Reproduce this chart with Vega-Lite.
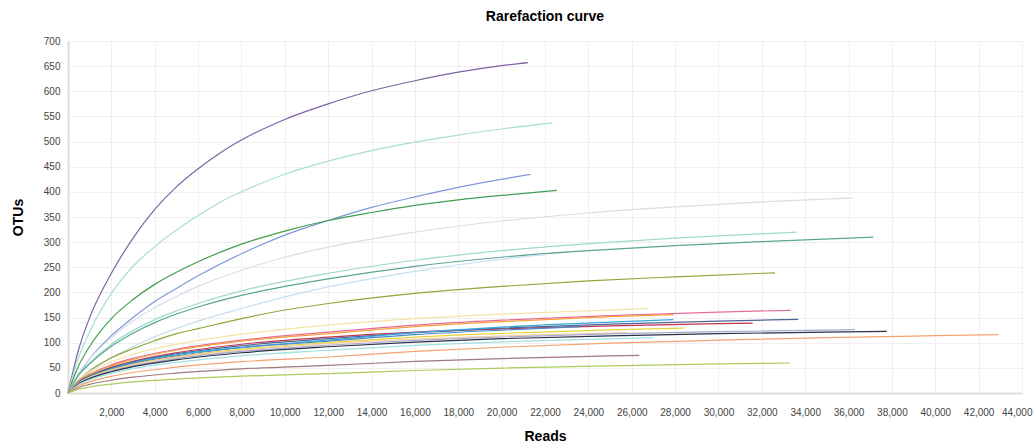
{
"$schema": "https://vega.github.io/schema/vega-lite/v6.json",
"width": 954, "height": 352,
"autosize": {"type": "none"},
"padding": {"left": 68, "top": 41, "right": 11, "bottom": 55},
"background": "white",
"title": {"text": "Rarefaction curve", "font": "Liberation Sans", "fontSize": 14, "fontWeight": "bold", "color": "#000000", "anchor": "middle", "offset": 12},
"config": {
  "view": {"stroke": null},
  "axis": {"labelFont": "Liberation Sans", "labelFontSize": 10, "labelColor": "#444444", "titleFont": "Liberation Sans", "titleFontSize": 14, "titleFontWeight": "bold", "titleColor": "#000000", "gridColor": "#efefef", "gridWidth": 1, "ticks": false, "domainColor": "#dddddd", "domainWidth": 2}
},
"data": {"values": [
{"s":"S01","x":0,"y":0},{"s":"S01","x":500,"y":88},{"s":"S01","x":1000,"y":150},{"s":"S01","x":2000,"y":238},{"s":"S01","x":3000,"y":308},{"s":"S01","x":4000,"y":365},{"s":"S01","x":5000,"y":410},{"s":"S01","x":6000,"y":446},{"s":"S01","x":7000,"y":477},{"s":"S01","x":8000,"y":503},{"s":"S01","x":10000,"y":544},{"s":"S01","x":12000,"y":575},{"s":"S01","x":14000,"y":601},{"s":"S01","x":16000,"y":621},{"s":"S01","x":18000,"y":638},{"s":"S01","x":20000,"y":651},{"s":"S01","x":21215,"y":657},
{"s":"S02","x":0,"y":0},{"s":"S02","x":500,"y":72},{"s":"S02","x":1000,"y":122},{"s":"S02","x":2000,"y":198},{"s":"S02","x":3000,"y":252},{"s":"S02","x":4000,"y":291},{"s":"S02","x":5000,"y":324},{"s":"S02","x":6000,"y":353},{"s":"S02","x":7000,"y":379},{"s":"S02","x":8000,"y":400},{"s":"S02","x":10000,"y":435},{"s":"S02","x":12000,"y":461},{"s":"S02","x":14000,"y":482},{"s":"S02","x":16000,"y":499},{"s":"S02","x":18000,"y":513},{"s":"S02","x":20000,"y":525},{"s":"S02","x":22350,"y":537},
{"s":"S03","x":0,"y":0},{"s":"S03","x":500,"y":38},{"s":"S03","x":1000,"y":68},{"s":"S03","x":2000,"y":114},{"s":"S03","x":3000,"y":150},{"s":"S03","x":4000,"y":182},{"s":"S03","x":5000,"y":208},{"s":"S03","x":6000,"y":233},{"s":"S03","x":8000,"y":277},{"s":"S03","x":10000,"y":314},{"s":"S03","x":12000,"y":343},{"s":"S03","x":14000,"y":369},{"s":"S03","x":16000,"y":390},{"s":"S03","x":18000,"y":409},{"s":"S03","x":20000,"y":425},{"s":"S03","x":21340,"y":435},
{"s":"S04","x":0,"y":0},{"s":"S04","x":500,"y":55},{"s":"S04","x":1000,"y":93},{"s":"S04","x":2000,"y":148},{"s":"S04","x":3000,"y":186},{"s":"S04","x":4000,"y":216},{"s":"S04","x":5000,"y":240},{"s":"S04","x":6000,"y":261},{"s":"S04","x":8000,"y":296},{"s":"S04","x":10000,"y":322},{"s":"S04","x":12000,"y":343},{"s":"S04","x":14000,"y":359},{"s":"S04","x":16000,"y":373},{"s":"S04","x":18000,"y":384},{"s":"S04","x":20000,"y":393},{"s":"S04","x":22540,"y":403},
{"s":"S05","x":0,"y":0},{"s":"S05","x":500,"y":40},{"s":"S05","x":1000,"y":68},{"s":"S05","x":2000,"y":110},{"s":"S05","x":3000,"y":143},{"s":"S05","x":4000,"y":170},{"s":"S05","x":5000,"y":192},{"s":"S05","x":6000,"y":212},{"s":"S05","x":8000,"y":244},{"s":"S05","x":10000,"y":270},{"s":"S05","x":12000,"y":290},{"s":"S05","x":16000,"y":320},{"s":"S05","x":20000,"y":342},{"s":"S05","x":24000,"y":358},{"s":"S05","x":28000,"y":370},{"s":"S05","x":32000,"y":380},{"s":"S05","x":36220,"y":388},
{"s":"S06","x":0,"y":0},{"s":"S06","x":500,"y":38},{"s":"S06","x":1000,"y":60},{"s":"S06","x":2000,"y":97},{"s":"S06","x":3000,"y":124},{"s":"S06","x":4000,"y":146},{"s":"S06","x":5000,"y":163},{"s":"S06","x":6000,"y":178},{"s":"S06","x":8000,"y":203},{"s":"S06","x":10000,"y":222},{"s":"S06","x":12000,"y":238},{"s":"S06","x":16000,"y":264},{"s":"S06","x":20000,"y":283},{"s":"S06","x":24000,"y":297},{"s":"S06","x":28000,"y":308},{"s":"S06","x":33610,"y":320},
{"s":"S07","x":0,"y":0},{"s":"S07","x":500,"y":36},{"s":"S07","x":1000,"y":58},{"s":"S07","x":2000,"y":93},{"s":"S07","x":3000,"y":119},{"s":"S07","x":4000,"y":140},{"s":"S07","x":5000,"y":157},{"s":"S07","x":6000,"y":171},{"s":"S07","x":8000,"y":194},{"s":"S07","x":10000,"y":212},{"s":"S07","x":12000,"y":227},{"s":"S07","x":16000,"y":252},{"s":"S07","x":20000,"y":270},{"s":"S07","x":24000,"y":283},{"s":"S07","x":28000,"y":293},{"s":"S07","x":32000,"y":301},{"s":"S07","x":37140,"y":310},
{"s":"S08","x":0,"y":0},{"s":"S08","x":500,"y":25},{"s":"S08","x":1000,"y":42},{"s":"S08","x":2000,"y":70},{"s":"S08","x":3000,"y":92},{"s":"S08","x":4000,"y":112},{"s":"S08","x":5000,"y":128},{"s":"S08","x":6000,"y":143},{"s":"S08","x":8000,"y":168},{"s":"S08","x":10000,"y":191},{"s":"S08","x":12000,"y":211},{"s":"S08","x":16000,"y":242},{"s":"S08","x":20000,"y":266},{"s":"S08","x":22000,"y":275},
{"s":"S09","x":0,"y":0},{"s":"S09","x":500,"y":26},{"s":"S09","x":1000,"y":44},{"s":"S09","x":2000,"y":70},{"s":"S09","x":3000,"y":88},{"s":"S09","x":4000,"y":104},{"s":"S09","x":5000,"y":118},{"s":"S09","x":6000,"y":128},{"s":"S09","x":8000,"y":148},{"s":"S09","x":10000,"y":165},{"s":"S09","x":12000,"y":178},{"s":"S09","x":16000,"y":198},{"s":"S09","x":20000,"y":212},{"s":"S09","x":24000,"y":223},{"s":"S09","x":28000,"y":231},{"s":"S09","x":32610,"y":239},
{"s":"S10","x":0,"y":0},{"s":"S10","x":500,"y":27},{"s":"S10","x":1000,"y":42},{"s":"S10","x":2000,"y":62},{"s":"S10","x":3000,"y":77},{"s":"S10","x":5000,"y":97},{"s":"S10","x":8000,"y":117},{"s":"S10","x":12000,"y":135},{"s":"S10","x":16000,"y":148},{"s":"S10","x":20000,"y":157},{"s":"S10","x":25000,"y":165},{"s":"S10","x":26765,"y":168},
{"s":"S11","x":0,"y":0},{"s":"S11","x":500,"y":24},{"s":"S11","x":1000,"y":37.5},{"s":"S11","x":2000,"y":56},{"s":"S11","x":3000,"y":69},{"s":"S11","x":5000,"y":87},{"s":"S11","x":8000,"y":105},{"s":"S11","x":12000,"y":121},{"s":"S11","x":16000,"y":135},{"s":"S11","x":20000,"y":145},{"s":"S11","x":25000,"y":154},{"s":"S11","x":30000,"y":161},{"s":"S11","x":33330,"y":164.5},
{"s":"S12","x":0,"y":0},{"s":"S12","x":500,"y":23.6},{"s":"S12","x":1000,"y":36.6},{"s":"S12","x":2000,"y":54},{"s":"S12","x":3000,"y":67},{"s":"S12","x":5000,"y":85},{"s":"S12","x":8000,"y":103},{"s":"S12","x":12000,"y":118},{"s":"S12","x":16000,"y":132},{"s":"S12","x":20000,"y":142},{"s":"S12","x":25000,"y":152},{"s":"S12","x":27920,"y":156},
{"s":"S13","x":0,"y":0},{"s":"S13","x":500,"y":22},{"s":"S13","x":1000,"y":34},{"s":"S13","x":2000,"y":51},{"s":"S13","x":3000,"y":63},{"s":"S13","x":5000,"y":80},{"s":"S13","x":8000,"y":97},{"s":"S13","x":12000,"y":111},{"s":"S13","x":16000,"y":121},{"s":"S13","x":20000,"y":127.5},{"s":"S13","x":25000,"y":133.5},{"s":"S13","x":30000,"y":138},{"s":"S13","x":31575,"y":139},
{"s":"S14","x":0,"y":0},{"s":"S14","x":500,"y":21.6},{"s":"S14","x":1000,"y":33.5},{"s":"S14","x":2000,"y":50},{"s":"S14","x":3000,"y":62},{"s":"S14","x":5000,"y":78},{"s":"S14","x":8000,"y":94},{"s":"S14","x":12000,"y":108},{"s":"S14","x":16000,"y":120},{"s":"S14","x":20000,"y":129},{"s":"S14","x":25000,"y":137},{"s":"S14","x":30000,"y":143},{"s":"S14","x":33680,"y":146.5},
{"s":"S15","x":0,"y":0},{"s":"S15","x":500,"y":21},{"s":"S15","x":1000,"y":32.6},{"s":"S15","x":2000,"y":48},{"s":"S15","x":3000,"y":60},{"s":"S15","x":5000,"y":76},{"s":"S15","x":8000,"y":91},{"s":"S15","x":12000,"y":105},{"s":"S15","x":16000,"y":120},{"s":"S15","x":20000,"y":131},{"s":"S15","x":25000,"y":141},{"s":"S15","x":27920,"y":146},
{"s":"S16","x":0,"y":0},{"s":"S16","x":500,"y":20.6},{"s":"S16","x":1000,"y":32},{"s":"S16","x":2000,"y":47},{"s":"S16","x":3000,"y":59},{"s":"S16","x":5000,"y":74},{"s":"S16","x":8000,"y":90},{"s":"S16","x":12000,"y":103},{"s":"S16","x":16000,"y":116},{"s":"S16","x":20000,"y":125},{"s":"S16","x":23660,"y":132},
{"s":"S17","x":0,"y":0},{"s":"S17","x":500,"y":20},{"s":"S17","x":1000,"y":31},{"s":"S17","x":2000,"y":46},{"s":"S17","x":3000,"y":57},{"s":"S17","x":5000,"y":72},{"s":"S17","x":8000,"y":87},{"s":"S17","x":12000,"y":100},{"s":"S17","x":16000,"y":111},{"s":"S17","x":20000,"y":118.5},{"s":"S17","x":25000,"y":125.4},{"s":"S17","x":28400,"y":129},
{"s":"S18","x":0,"y":0},{"s":"S18","x":500,"y":19.6},{"s":"S18","x":1000,"y":30.4},{"s":"S18","x":2000,"y":45},{"s":"S18","x":3000,"y":56},{"s":"S18","x":5000,"y":70.6},{"s":"S18","x":8000,"y":85},{"s":"S18","x":12000,"y":98},{"s":"S18","x":16000,"y":107},{"s":"S18","x":20000,"y":113.6},{"s":"S18","x":25770,"y":120},
{"s":"S19","x":0,"y":0},{"s":"S19","x":500,"y":19},{"s":"S19","x":1000,"y":29.5},{"s":"S19","x":2000,"y":43.7},{"s":"S19","x":3000,"y":54},{"s":"S19","x":5000,"y":68.4},{"s":"S19","x":8000,"y":82.7},{"s":"S19","x":12000,"y":95},{"s":"S19","x":16000,"y":104.6},{"s":"S19","x":20000,"y":111.4},{"s":"S19","x":25000,"y":117.6},{"s":"S19","x":30000,"y":122},{"s":"S19","x":35000,"y":125},{"s":"S19","x":36300,"y":126},
{"s":"S20","x":0,"y":0},{"s":"S20","x":500,"y":18.4},{"s":"S20","x":1000,"y":28.5},{"s":"S20","x":2000,"y":42.3},{"s":"S20","x":3000,"y":52.4},{"s":"S20","x":5000,"y":66},{"s":"S20","x":8000,"y":80},{"s":"S20","x":12000,"y":92},{"s":"S20","x":16000,"y":101},{"s":"S20","x":20000,"y":108},{"s":"S20","x":25000,"y":113.7},{"s":"S20","x":30000,"y":118},{"s":"S20","x":35000,"y":121},{"s":"S20","x":37760,"y":122.7},
{"s":"S21","x":0,"y":0},{"s":"S21","x":500,"y":17},{"s":"S21","x":1000,"y":26.4},{"s":"S21","x":2000,"y":39},{"s":"S21","x":3000,"y":48.5},{"s":"S21","x":5000,"y":61},{"s":"S21","x":8000,"y":74},{"s":"S21","x":12000,"y":85},{"s":"S21","x":16000,"y":94.7},{"s":"S21","x":20000,"y":101.6},{"s":"S21","x":25000,"y":107.8},{"s":"S21","x":27000,"y":110},
{"s":"S22","x":0,"y":0},{"s":"S22","x":500,"y":14.3},{"s":"S22","x":1000,"y":22.2},{"s":"S22","x":2000,"y":33},{"s":"S22","x":3000,"y":40.8},{"s":"S22","x":5000,"y":51.5},{"s":"S22","x":8000,"y":62.3},{"s":"S22","x":12000,"y":71.6},{"s":"S22","x":16000,"y":82.6},{"s":"S22","x":20000,"y":91},{"s":"S22","x":25000,"y":99},{"s":"S22","x":30000,"y":105},{"s":"S22","x":35000,"y":110},{"s":"S22","x":40000,"y":114},{"s":"S22","x":42905,"y":116},
{"s":"S23","x":0,"y":0},{"s":"S23","x":500,"y":11},{"s":"S23","x":1000,"y":17},{"s":"S23","x":2000,"y":25.3},{"s":"S23","x":3000,"y":31.4},{"s":"S23","x":5000,"y":39.6},{"s":"S23","x":8000,"y":47.9},{"s":"S23","x":12000,"y":55},{"s":"S23","x":16000,"y":62.7},{"s":"S23","x":20000,"y":68.4},{"s":"S23","x":25000,"y":73.8},{"s":"S23","x":26350,"y":75},
{"s":"S24","x":0,"y":0},{"s":"S24","x":500,"y":7.7},{"s":"S24","x":1000,"y":12},{"s":"S24","x":2000,"y":17.7},{"s":"S24","x":3000,"y":22},{"s":"S24","x":5000,"y":27.7},{"s":"S24","x":8000,"y":33.5},{"s":"S24","x":12000,"y":38.5},{"s":"S24","x":16000,"y":44.7},{"s":"S24","x":20000,"y":49.5},{"s":"S24","x":25000,"y":54.1},{"s":"S24","x":30000,"y":57.8},{"s":"S24","x":33300,"y":59.7}
]},
"mark": {"type": "line", "interpolate": "monotone", "strokeWidth": 1.2},
"encoding": {
  "x": {"field": "x", "type": "quantitative", "scale": {"domain": [0, 44000], "nice": false, "zero": true},
        "axis": {"title": "Reads", "values": [2000,4000,6000,8000,10000,12000,14000,16000,18000,20000,22000,24000,26000,28000,30000,32000,34000,36000,38000,40000,42000,44000], "format": ",.0f", "labelPadding": 14, "titlePadding": 12, "labelFlush": true, "labelFlushOffset": 10}},
  "y": {"field": "y", "type": "quantitative", "scale": {"domain": [0, 700], "nice": false},
        "axis": {"title": "OTUs", "values": [0,50,100,150,200,250,300,350,400,450,500,550,600,650,700], "format": "d", "labelPadding": 8, "titlePadding": 18}},
  "color": {"field": "s", "type": "nominal", "legend": null,
    "scale": {"domain": ["S01","S02","S03","S04","S05","S06","S07","S08","S09","S10","S11","S12","S13","S14","S15","S16","S17","S18","S19","S20","S21","S22","S23","S24"],
              "range": ["#7e62a3","#a9ded4","#7f97d9","#3f9f4f","#dcdce8","#9fd8cc","#5aa595","#c6def0","#8fa83a","#f3e3a3","#e86a9a","#f3a23c","#c2324c","#4f6394","#38a9dc","#4a8cc8","#e8d43a","#f6cfa6","#a9a9cf","#28324a","#9fe0e0","#f4a270","#a07a7a","#a9cc5a"]}}
}
}
